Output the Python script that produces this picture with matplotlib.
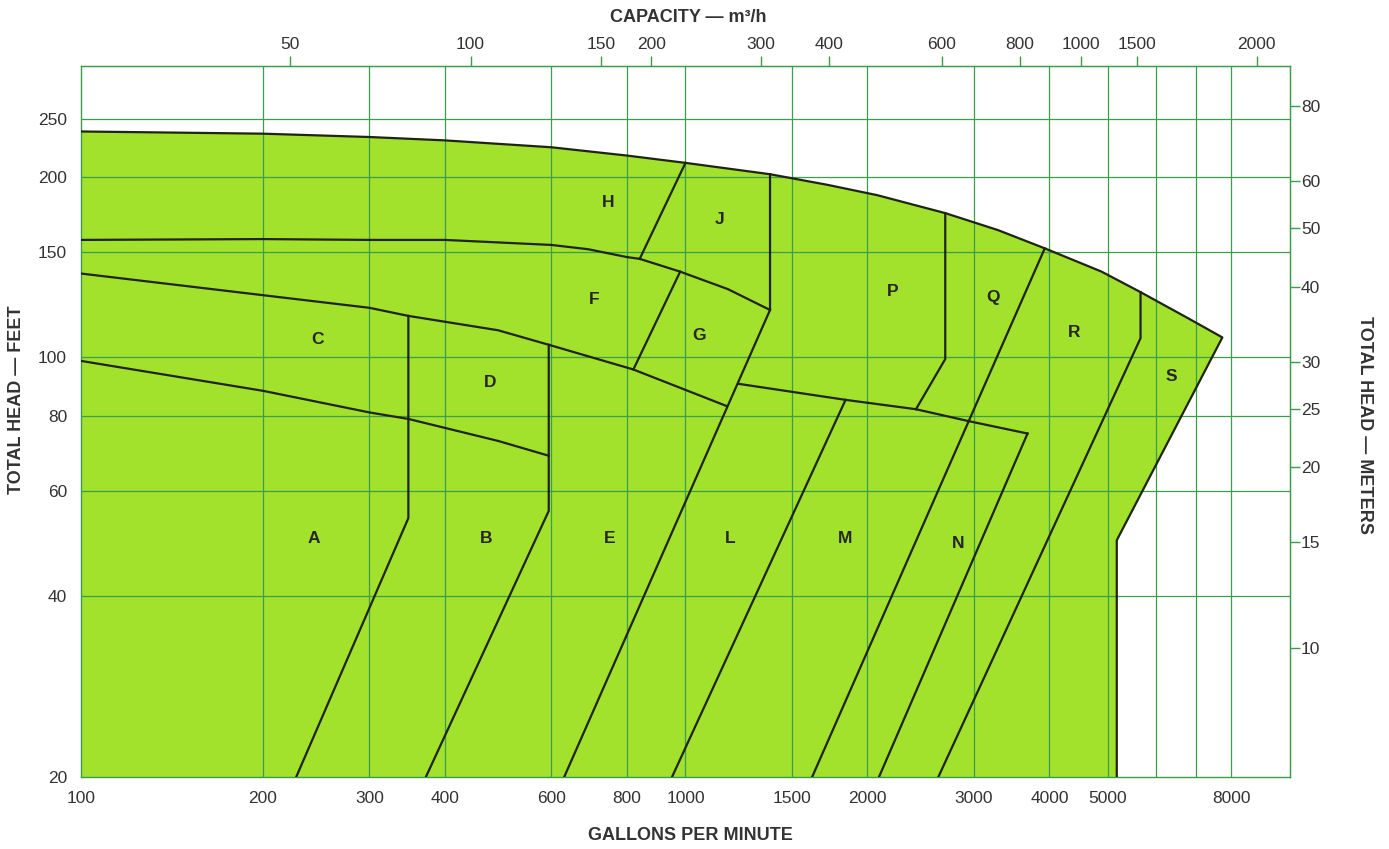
import matplotlib
matplotlib.use('Agg')
import matplotlib.pyplot as plt
from matplotlib.ticker import NullLocator

plt.rcParams['font.family'] = ['Liberation Sans', 'DejaVu Sans']

# ---------------- axis ticks / labels ----------------
gpm_ticks = [100, 200, 300, 400, 600, 800, 1000, 1500, 2000, 3000, 4000, 5000, 8000]
gpm_grid = [200, 300, 400, 600, 800, 1000, 1500, 2000, 3000, 4000, 5000, 6000, 7000, 8000]
feet_ticks = [20, 40, 60, 80, 100, 150, 200, 250]
feet_grid = [40, 60, 80, 100, 150, 200, 250]
meter_ticks = [10, 15, 20, 25, 30, 40, 50, 60, 80]
m3h_labels = ['50', '100', '150', '200', '300', '400', '600', '800', '1000', '1500', '2000']
m3h_tick_gpm = [222, 441, 725, 878, 1333, 1729, 2652, 3575, 4512, 5594, 8810]

# ---------------- region boundaries (gpm, feet) ----------------
env_gpm = [100, 200, 300, 400, 600, 800, 1000, 1380, 1715, 2076, 2690, 3290, 3930, 4880,
           5660, 6810, 7730, 5170, 5170]
env_ft = [238, 236, 233, 230, 224, 217, 211, 202, 194, 186.4, 174, 163, 152, 139,
          128.5, 116, 108, 49.6, 20]

c150_gpm = [100, 200, 300, 400, 600, 690, 800, 840, 980, 1175, 1380]
c150_ft = [157, 157.5, 157, 157, 154, 151.5, 147, 146, 139, 130, 120]

c130_gpm = [100, 200, 300, 348, 400, 490, 594, 820, 1170]
c130_ft = [138, 127, 121, 117.3, 114.7, 111, 105, 95.5, 83]

c100_gpm = [100, 200, 300, 348, 490, 594]
c100_ft = [98.7, 88, 81, 79, 72.6, 68.6]

ab_gpm = [348, 348, 227]
ab_ft = [117.3, 54, 20]

be_gpm = [594, 594, 372]
be_ft = [105, 55.5, 20]

el_gpm = [1380, 1380, 630]
el_ft = [202, 120, 20]

hj_gpm = [1000, 840]
hj_ft = [211, 146]

fg_gpm = [980, 820]
fg_ft = [139, 95.5]

lmn_top_gpm = [1223, 1840, 2406, 2930, 3680]
lmn_top_ft = [90.4, 85, 82, 78.4, 74.7]

lm_gpm = [1840, 950]
lm_ft = [85, 20]

mn_gpm = [3930, 1620]
mn_ft = [152, 20]

nr_gpm = [3680, 2090]
nr_ft = [74.7, 20]

pq_gpm = [2690, 2690, 2406]
pq_ft = [174, 99.4, 82]

rs_gpm = [5660, 5660, 2620]
rs_ft = [128.5, 107.7, 20]

region_letters = ['A', 'B', 'C', 'D', 'E', 'F', 'G', 'H', 'J', 'L', 'M', 'N', 'P', 'Q', 'R', 'S']
letter_gpm = [243, 468, 246, 476, 748, 707, 1052, 746, 1140, 1184, 1836, 2830, 2204, 3230, 4390, 6370]
letter_ft = [50, 50, 107, 91, 50, 125, 109, 181, 170, 50, 50, 49, 129, 126, 110, 93]

# ---------------- styles ----------------
FILL = '#a2e12c'
GRID = '#3c9d4c'
LINE = '#1e2410'
TXT = '#333333'

fig = plt.figure(figsize=(13.89, 8.49), dpi=100)
ax = fig.add_axes([0.0583, 0.0848, 0.8704, 0.8375])
ax.set_xscale('log')
ax.set_yscale('log')
ax.set_xlim(100, 10000)
ax.set_ylim(20, 306)

# fill
ax.fill([100] + env_gpm, [20] + env_ft, color=FILL, lw=0, zorder=1)

# grid
for g in gpm_grid:
    ax.axvline(g, color=GRID, lw=0.9, zorder=2)
for f in feet_grid:
    ax.axhline(f, color=GRID, lw=0.9, zorder=2)

# boundaries
lines = [(env_gpm, env_ft), (c150_gpm, c150_ft), (c130_gpm, c130_ft), (c100_gpm, c100_ft),
         (ab_gpm, ab_ft), (be_gpm, be_ft), (el_gpm, el_ft), (hj_gpm, hj_ft), (fg_gpm, fg_ft),
         (lmn_top_gpm, lmn_top_ft), (lm_gpm, lm_ft), (mn_gpm, mn_ft), (nr_gpm, nr_ft),
         (pq_gpm, pq_ft), (rs_gpm, rs_ft)]
for xs, ys in lines:
    ax.plot(xs, ys, color=LINE, lw=1.6, zorder=3, solid_joinstyle='round')

for lab, gx, fy in zip(region_letters, letter_gpm, letter_ft):
    ax.text(gx, fy, lab, ha='center', va='center', fontsize=12.5, fontweight='bold',
            color='#262626', zorder=4)

# axes styling
for s in ax.spines.values():
    s.set_color(GRID)
    s.set_linewidth(1.0)
ax.xaxis.set_minor_locator(NullLocator())
ax.yaxis.set_minor_locator(NullLocator())
ax.set_xticks(gpm_ticks, labels=[str(v) for v in gpm_ticks])
ax.set_yticks(feet_ticks, labels=[str(v) for v in feet_ticks])
ax.tick_params(axis='x', length=0, pad=10, labelsize=12.5, labelcolor=TXT)
ax.tick_params(axis='y', length=0, pad=10, labelsize=12.5, labelcolor=TXT)

# right axis: meters
secy = ax.secondary_yaxis('right', functions=(lambda f: f / 3.281, lambda m: m * 3.281))
secy.set_yticks(meter_ticks, labels=[str(v) for v in meter_ticks])
secy.yaxis.set_minor_locator(NullLocator())
secy.tick_params(axis='y', length=7, width=1, color=GRID, pad=1, labelsize=12.5, labelcolor=TXT)
secy.spines['right'].set_color(GRID)

# top axis: m3/h
secx = ax.secondary_xaxis('top', functions=(lambda x: x, lambda x: x))
secx.set_xticks(m3h_tick_gpm, labels=m3h_labels)
secx.xaxis.set_minor_locator(NullLocator())
secx.tick_params(axis='x', length=7, width=1, color=GRID, pad=3, labelsize=12.5, labelcolor=TXT)
secx.spines['top'].set_color(GRID)

# titles
fig.text(688 / 1389, 1 - 18 / 849, 'CAPACITY — m³/h', ha='center', va='center',
         fontsize=13, fontweight='bold', color=TXT)
fig.text(690 / 1389, 1 - 836 / 849, 'GALLONS PER MINUTE', ha='center', va='center',
         fontsize=13, fontweight='bold', color=TXT)
fig.text(17 / 1389, 1 - 400 / 849, 'TOTAL HEAD — FEET', ha='center', va='center',
         rotation=90, fontsize=13, fontweight='bold', color=TXT)
fig.text(1365 / 1389, 1 - 425 / 849, 'TOTAL HEAD — METERS', ha='center', va='center',
         rotation=-90, fontsize=13, fontweight='bold', color=TXT)

fig.savefig('out.png', dpi=100)
